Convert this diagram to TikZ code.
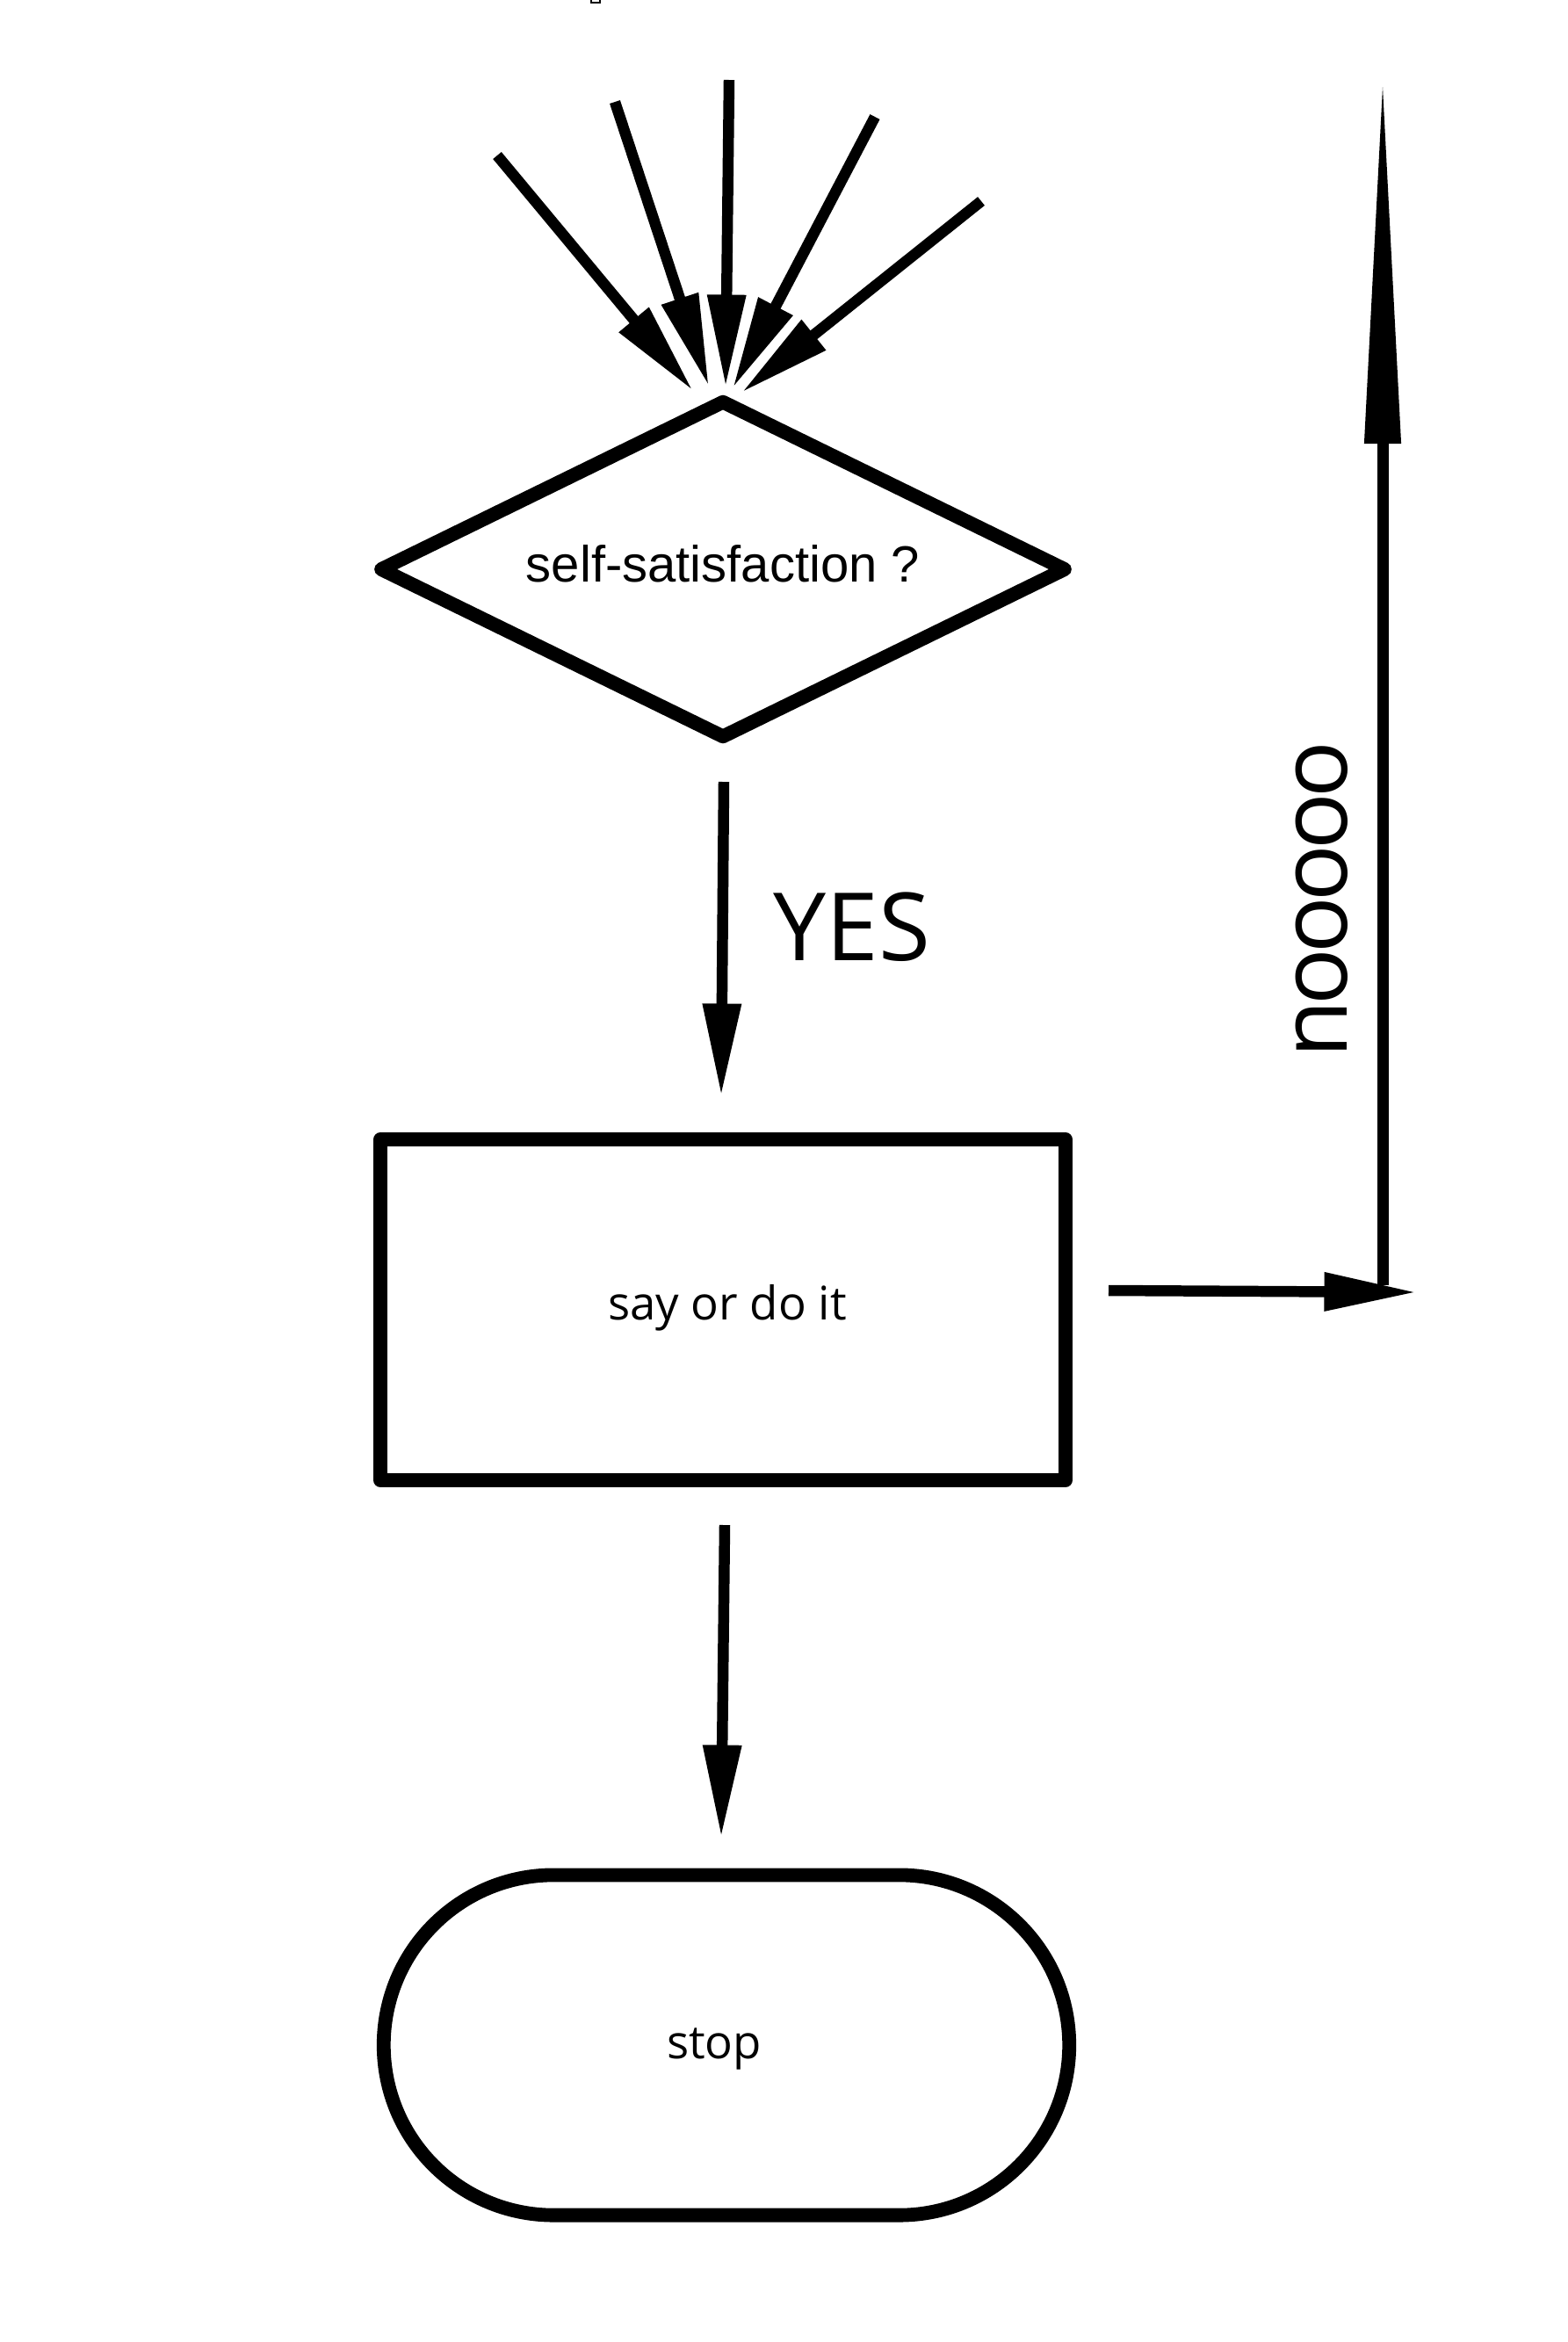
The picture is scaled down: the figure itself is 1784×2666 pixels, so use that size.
\documentclass[tikz,border=0pt]{standalone}
\usepackage{fontspec}
\setmainfont{Open Sans}
\newfontfamily\libsans{Liberation Sans}
\newfontfamily\tightsans[LetterSpace=-5.5]{Open Sans}
\usetikzlibrary{arrows.meta,shapes.geometric}
\begin{document}
\begin{tikzpicture}[x=0.01cm,y=-0.01cm,
  shapeline/.style={draw=black,line width=4.5pt,line join=round,inner sep=0pt},
  arr/.style={line width=3.55pt,-{Triangle[length=30pt,width=11.7pt]}},
  longarr/.style={line width=3.7pt,-{Triangle[length=115.5pt,width=12pt,line width=0pt]}},
  bigtxt/.style={font=\fontsize{30.5pt}{36pt}\selectfont,inner sep=0pt},
  smalltxt/.style={font=\fontsize{15pt}{18pt}\selectfont}]

\useasboundingbox (0,0) rectangle (1784,2666);

% tiny glyph box at the top edge
\draw[line width=0.4pt] (673,-6) rectangle (683,3);

% shapes
\node[shapeline,diamond,aspect=2,minimum width=7.84cm,minimum height=3.87cm,
      font=\libsans\fontsize{16.5pt}{19pt}\selectfont] (q) at (823,648) {\raisebox{-0.14cm}[0pt][0pt]{self-satisfaction ?}};
\node[shapeline,rectangle,minimum width=7.8cm,minimum height=3.87cm,smalltxt] (act) at (823,1491) {\kern0.1cm\raisebox{-0.11cm}[0pt][0pt]{say or do it}};
\node[shapeline,rectangle,rounded corners=1.935cm,minimum width=7.8cm,minimum height=3.87cm,smalltxt] (stop) at (827,2328) {\kern-0.28cm\raisebox{-0.15cm}[0pt][0pt]{stop}};

% labels
\node[bigtxt,anchor=base west] (yes) at (880,1093) {YES};
\node[bigtxt,font=\tightsans\fontsize{30.5pt}{36pt}\selectfont,rotate=90,anchor=base west] (no) at (1533,1205) {nooooo};

% coordinates
\coordinate (s1) at (566,177);  \coordinate (t1) at (789,445);
\coordinate (s2) at (700,116);  \coordinate (t2) at (807,440);
\coordinate (s3) at (830,91);   \coordinate (t3) at (826,441);
\coordinate (s4) at (996,133);  \coordinate (t4) at (834,442);
\coordinate (s5) at (1117,229); \coordinate (t5) at (844,447);
\coordinate (y1) at (824,890);  \coordinate (y2) at (821,1248);
\coordinate (r1) at (1262,1469); \coordinate (r2) at (1613,1471);
\coordinate (v1) at (1574,1463); \coordinate (v2) at (1574,99);
\coordinate (d1) at (825,1736); \coordinate (d2) at (821,2092);

% connectors
\draw[arr] (s1) -- (t1);
\draw[arr] (s2) -- (t2);
\draw[arr] (s3) -- (t3);
\draw[arr] (s4) -- (t4);
\draw[arr] (s5) -- (t5);
\draw[arr] (y1) -- (y2);
\draw[arr] (r1) -- (r2);
\draw[longarr] (v1) -- (v2);
\draw[arr] (d1) -- (d2);
\end{tikzpicture}
\end{document}
